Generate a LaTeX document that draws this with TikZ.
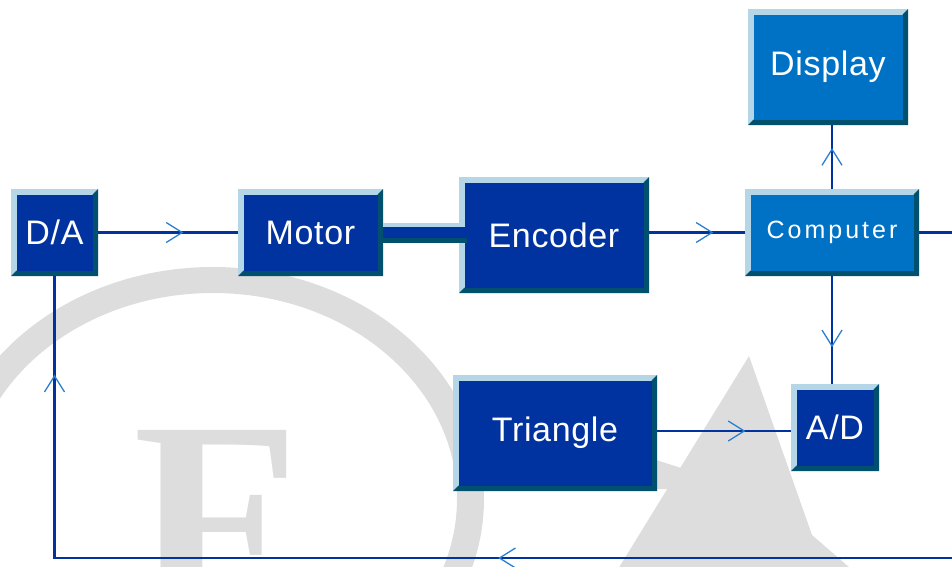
\documentclass[tikz,border=0pt]{standalone}
\usepackage{fontspec}
\setmainfont{Liberation Sans}
\newfontfamily\boxfont[LetterSpace=2]{Liberation Sans}
\newfontfamily\compfont[LetterSpace=12]{Liberation Sans}
\newfontfamily\wmfont{Liberation Serif}
\usetikzlibrary{arrows.meta,decorations.markings,calc}
\definecolor{navy}{HTML}{0033A0}
\definecolor{midblue}{HTML}{0072C6}
\definecolor{bevlight}{HTML}{B4D6E6}
\definecolor{bevdark}{HTML}{00506E}
\definecolor{wireblue}{HTML}{0033A0}
\definecolor{chevcol}{HTML}{2A7FD0}
\definecolor{wmgray}{HTML}{DDDDDD}
\tikzset{
  bevbox/.style={fill=bevlight, inner sep=0pt, outer sep=0pt, text=white,
    font=\boxfont\fontsize{34}{34}\selectfont,
    path picture={
      \fill[bevdark] (path picture bounding box.north east)
        -- (path picture bounding box.south east)
        -- (path picture bounding box.south west)
        -- ([shift={(5.5pt,5.5pt)}]path picture bounding box.south west)
        -- ([shift={(-5.5pt,5.5pt)}]path picture bounding box.south east)
        -- ([shift={(-5.5pt,-5.5pt)}]path picture bounding box.north east)
        -- cycle;
      \fill[#1] ([shift={(5.5pt,5.5pt)}]path picture bounding box.south west)
        rectangle ([shift={(-5.5pt,-5.5pt)}]path picture bounding box.north east);
    }},
  conn/.style={draw=wireblue, line width=2.5pt},
  chev/.style={postaction={decorate}, decoration={markings,
    mark=at position #1 with {\arrow{Straight Barb[length=16pt,width=20pt,line width=1.3pt,color=chevcol]}}}},
  wmark/.style={fill=wmgray, draw=none},
}
\begin{document}
\begin{tikzpicture}[x=1pt,y=-1pt]
\useasboundingbox (0,0) rectangle (952,566);
\path[clip] (0,0) rectangle (952,566);
% watermark
\fill[wmark, even odd rule] (213,499) ellipse [x radius=271, y radius=232]
  (213,499) ellipse [x radius=244, y radius=206];
\fill[wmark] (749,356) -- (812,535) -- (887,600) -- (599,600) -- cycle;
\fill[wmark] (600,442) -- (700,474) -- (700,489) -- (600,489) -- cycle;
\node[text=wmgray, inner sep=0pt, anchor=north west,
  font=\wmfont\bfseries\fontsize{272}{272}\selectfont] (wmF) at (133,430) {F};
% boxes
\node[bevbox=navy, minimum width=87pt, minimum height=87pt] (DA) at (54.5,232.5) {D/A};
\node[bevbox=navy, minimum width=145pt, minimum height=87pt] (Motor) at (310.5,232.5) {Motor};
\node[bevbox=navy, minimum width=190pt, minimum height=116pt] (Encoder) at (554,235) {Encoder};
\node[bevbox=midblue, minimum width=160pt, minimum height=116pt] (Display) at (828,67) {Display};
\node[bevbox=midblue, font=\compfont\fontsize{25}{25}\selectfont,
  minimum width=174pt, minimum height=87pt] (Computer) at (832,232.5) {Computer};
\node[bevbox=navy, minimum width=204pt, minimum height=116pt] (Triangle) at (555,433) {Triangle};
\node[bevbox=navy, minimum width=88pt, minimum height=87pt] (AD) at (835,427.5) {A/D};
% shaft Motor -- Encoder
\coordinate (m) at (Motor.east);
\coordinate (e) at (Encoder.west);
\fill[bevlight] ($(m)+(0,-9.5)$) rectangle ($(e)+(6,-8)$);
\fill[navy] ($(m)+(0,-5.5)$) rectangle ($(e)+(6,3)$);
\fill[bevdark] ($(m)+(0,5.5)$) rectangle ($(e)+(8,8)$);
% connectors
\draw[conn, chev=0.61] (DA.east) -- (Motor.west);
\draw[conn, chev=0.67] (Encoder.east |- Computer.west) -- (Computer.west);
\draw[conn, chev=0.64] (Computer.north) -- (Computer.north |- Display.south);
\draw[conn, chev=0.66] (Computer.south) -- (Computer.south |- AD.north);
\coordinate (tr) at ([yshift=2pt]Triangle.east);
\draw[conn, chev=0.66] (tr) -- (tr -| AD.west);
\coordinate (r1) at ($(Computer.east)+(60,0)$);
\coordinate (r2) at (r1 |- 0,558);
\coordinate (bl) at (DA.south |- r2);
\draw[conn] (Computer.east) -- (r1) -- (r2) -- (bl) -- (DA.south);
\path[chev=0.52] (r2) -- (bl);
\path[chev=0.65] (bl) -- (DA.south);
\end{tikzpicture}
\end{document}
